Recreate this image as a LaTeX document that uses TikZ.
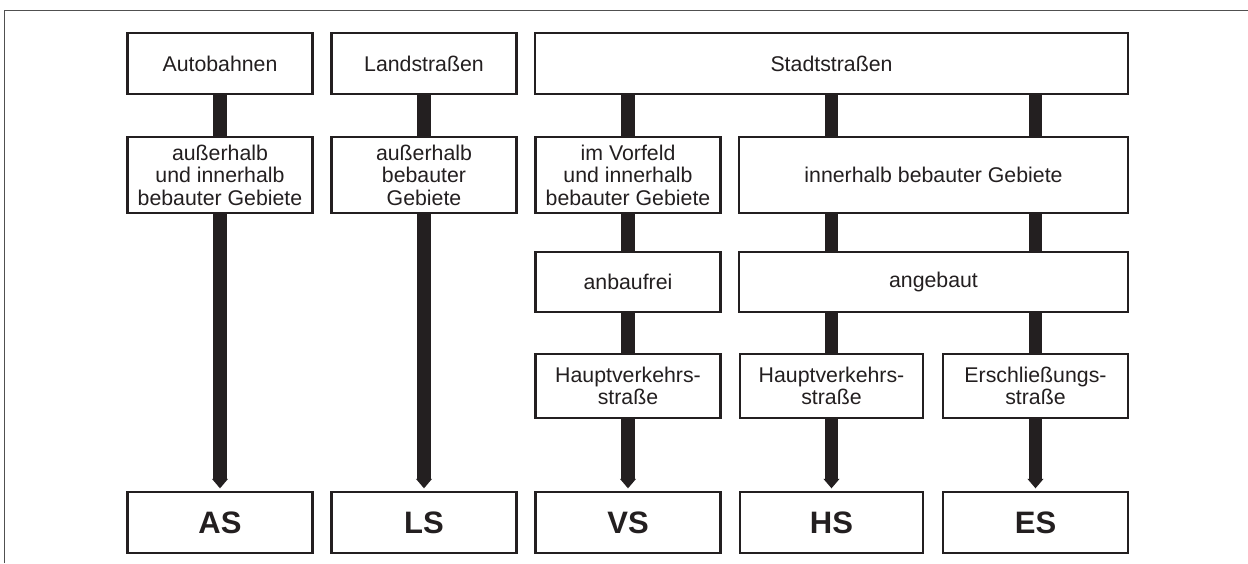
\documentclass[tikz,border=0pt]{standalone}
\usepackage{fontspec}
\setmainfont{Liberation Sans}
\usetikzlibrary{arrows.meta}
\definecolor{ink}{RGB}{35,31,32}
\definecolor{framec}{RGB}{80,80,80}
\begin{document}
\begin{tikzpicture}[x=1pt,y=-1pt,
  box/.style={draw=ink, line width=2.3pt, fill=white, inner sep=0pt, align=center,
    minimum width=185pt, text=ink, font=\fontsize{21.3}{22.5}\selectfont},
  big/.style={box, font=\fontsize{31}{32}\selectfont\bfseries},
  bar/.style={draw=ink, line width=13.5pt},
  arr/.style={bar, -{Triangle[width=15.5pt,length=9.5pt,sep=2.5pt]}}]
\useasboundingbox (0,0) rectangle (1248,563);
\draw[framec, line width=1.6pt] (4.5,563) -- (4.5,10.5) -- (1248,10.5);
% row 1
\node[box, minimum height=61pt] (auto) at (220,63.5) {Autobahnen};
\node[box, minimum height=61pt] (land) at (424,63.5) {Landstraßen};
\node[box, minimum height=61pt, minimum width=593pt] (stadt) at (831.5,63.5) {Stadtstraßen};
% row 2
\node[box, minimum height=76pt] (a2) at (220,175) {außerhalb\\und innerhalb\\bebauter Gebiete};
\node[box, minimum height=76pt] (l2) at (424,175) {außerhalb\\bebauter\\Gebiete};
\node[box, minimum height=76pt] (v2) at (628,175) {im Vorfeld\\und innerhalb\\bebauter Gebiete};
\node[box, minimum height=76pt, minimum width=389pt] (i2) at (933.5,175) {innerhalb bebauter Gebiete};
% row 3
\node[box, minimum height=60pt] (v3) at (628,282) {anbaufrei};
\node[box, minimum height=60pt, minimum width=389pt] (i3) at (933.5,282) {angebaut};
% row 4
\node[box, minimum height=64pt] (v4) at (628,386) {Hauptverkehrs-\\straße};
\node[box, minimum height=64pt, minimum width=183pt] (h4) at (831.5,386) {Hauptverkehrs-\\straße};
\node[box, minimum height=64pt] (e4) at (1035.5,386) {Erschließungs-\\straße};
% row 5
\node[big, minimum height=61pt] (AS) at (220,522.5) {AS};
\node[big, minimum height=61pt] (LS) at (424,522.5) {LS};
\node[big, minimum height=61pt] (VS) at (628,522.5) {VS};
\node[big, minimum height=61pt, minimum width=183pt] (HS) at (831.5,522.5) {HS};
\node[big, minimum height=61pt] (ES) at (1035.5,522.5) {ES};
% connectors
\draw[bar] (auto) -- (a2);
\draw[bar] (land) -- (l2);
\draw[bar] (stadt.south -| v2) -- (v2.north);
\draw[bar] (stadt.south -| h4) -- (i2.north -| h4);
\draw[bar] (stadt.south -| e4) -- (i2.north -| e4);
\draw[bar] (v2) -- (v3);
\draw[bar] (v3) -- (v4);
\draw[bar] (i2.south -| h4) -- (i3.north -| h4);
\draw[bar] (i2.south -| e4) -- (i3.north -| e4);
\draw[bar] (i3.south -| h4) -- (h4.north);
\draw[bar] (i3.south -| e4) -- (e4.north);
\draw[arr] (a2) -- (AS);
\draw[arr] (l2) -- (LS);
\draw[arr] (v4) -- (VS);
\draw[arr] (h4) -- (HS);
\draw[arr] (e4) -- (ES);
\end{tikzpicture}
\end{document}
